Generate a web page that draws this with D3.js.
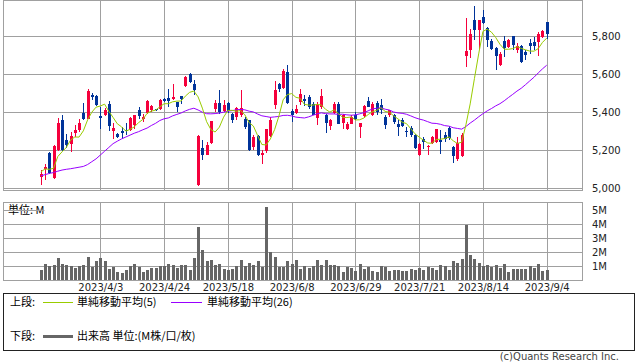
<!DOCTYPE html>
<html>
<head>
<meta charset="utf-8">
<script src="https://cdn.jsdelivr.net/npm/d3@7"></script>
<style>
body { margin: 0; background: #fff; }
text { font-family: "DejaVu Sans", sans-serif; }
.jp { font-family: "Noto Sans CJK JP", sans-serif; }
</style>
</head>
<body>
<svg id="chart" width="638" height="362"></svg>
<script>
// x axis ticks (bar index -> date label)
var tickIdx = [14, 29, 44, 59, 74, 89, 104, 119];
var tickLabels = ['2023/4/3', '2023/4/24', '2023/5/18', '2023/6/8', '2023/6/29', '2023/7/21', '2023/8/14', '2023/9/4'];
var priceTicks = [5000, 5200, 5400, 5600, 5800];
var volTicks = [1, 2, 3, 4, 5];

// daily OHLC, 2023/3/13 .. 2023/9/4
var open = [5060, 5100, 5186, 5054, 5200, 5358, 5256, 5235, 5291, 5309,
  5396, 5367, 5489, 5486, 5379, 5386, 5442, 5302, 5284, 5302,
  5305, 5305, 5332, 5410, 5367, 5398, 5410, 5418, 5416, 5472,
  5477, 5468, 5454, 5484, 5537, 5600, 5547, 5016, 5212, 5174,
  5239, 5416, 5449, 5405, 5449, 5393, 5375, 5384, 5367, 5358,
  5217, 5274, 5177, 5196, 5275, 5437, 5547, 5530, 5611, 5407,
  5398, 5454, 5472, 5481, 5442, 5372, 5428, 5384, 5326, 5396,
  5446, 5344, 5314, 5340, 5384, 5323, 5379, 5458, 5384, 5449,
  5437, 5375, 5384, 5384, 5337, 5361, 5300, 5319, 5279, 5174,
  5261, 5218, 5239, 5244, 5256, 5279, 5318, 5218, 5156, 5168,
  5695, 5730, 5888, 5835, 5902, 5844, 5775, 5739, 5647, 5775,
  5744, 5800, 5726, 5747, 5718, 5765, 5770, 5770, 5796, 5875];
var high = [5095, 5130, 5190, 5226, 5368, 5384, 5288, 5296, 5332, 5367,
  5449, 5525, 5502, 5489, 5428, 5424, 5458, 5344, 5290, 5323,
  5346, 5375, 5384, 5428, 5393, 5463, 5437, 5420, 5470, 5475,
  5525, 5551, 5454, 5484, 5590, 5607, 5572, 5278, 5253, 5244,
  5354, 5467, 5516, 5463, 5454, 5398, 5430, 5516, 5375, 5360,
  5279, 5279, 5200, 5314, 5375, 5563, 5554, 5630, 5647, 5419,
  5437, 5521, 5489, 5489, 5454, 5454, 5525, 5393, 5367, 5454,
  5454, 5393, 5349, 5384, 5402, 5344, 5437, 5481, 5454, 5460,
  5468, 5384, 5414, 5393, 5358, 5372, 5323, 5326, 5288, 5240,
  5270, 5226, 5274, 5311, 5305, 5296, 5326, 5223, 5270, 5291,
  5896, 5840, 5958, 5888, 5937, 5849, 5788, 5744, 5718, 5800,
  5788, 5800, 5765, 5753, 5726, 5788, 5796, 5823, 5832, 5875];
var low = [5016, 5042, 5075, 5050, 5195, 5196, 5210, 5191, 5270, 5296,
  5360, 5363, 5463, 5431, 5314, 5380, 5300, 5261, 5267, 5261,
  5280, 5300, 5310, 5367, 5349, 5393, 5402, 5405, 5410, 5455,
  5428, 5463, 5402, 5446, 5535, 5554, 5491, 5014, 5147, 5174,
  5232, 5402, 5393, 5402, 5396, 5344, 5360, 5375, 5314, 5196,
  5203, 5172, 5130, 5186, 5270, 5419, 5507, 5525, 5446, 5349,
  5393, 5437, 5431, 5419, 5384, 5332, 5419, 5291, 5305, 5393,
  5337, 5314, 5305, 5340, 5358, 5267, 5375, 5428, 5379, 5384,
  5393, 5314, 5375, 5340, 5274, 5323, 5270, 5270, 5209, 5170,
  5209, 5174, 5235, 5239, 5182, 5244, 5253, 5133, 5144, 5165,
  5639, 5688, 5779, 5726, 5863, 5744, 5726, 5621, 5642, 5691,
  5739, 5730, 5712, 5660, 5674, 5709, 5726, 5695, 5793, 5788];
var close = [5077, 5112, 5081, 5223, 5344, 5200, 5226, 5275, 5305, 5342,
  5363, 5512, 5481, 5437, 5372, 5412, 5326, 5318, 5270, 5291,
  5300, 5372, 5384, 5381, 5375, 5460, 5431, 5410, 5467, 5458,
  5460, 5481, 5428, 5470, 5586, 5560, 5516, 5274, 5174, 5230,
  5354, 5449, 5402, 5437, 5407, 5358, 5423, 5423, 5323, 5200,
  5270, 5174, 5186, 5311, 5358, 5516, 5525, 5618, 5449, 5384,
  5419, 5498, 5460, 5428, 5384, 5437, 5484, 5344, 5358, 5442,
  5340, 5384, 5337, 5375, 5363, 5344, 5431, 5428, 5446, 5402,
  5414, 5332, 5410, 5349, 5323, 5326, 5296, 5279, 5212, 5235,
  5244, 5223, 5270, 5311, 5244, 5261, 5267, 5168, 5239, 5279,
  5721, 5814, 5835, 5888, 5870, 5782, 5735, 5695, 5709, 5740,
  5779, 5753, 5747, 5665, 5700, 5747, 5749, 5814, 5828, 5814];
// volume, million shares
var volume = [0.71, 1.14, 1.00, 1.07, 1.57, 1.14, 1.07, 1.00, 0.86, 1.00,
  1.07, 1.64, 0.93, 1.36, 1.57, 1.36, 0.79, 0.93, 0.57, 0.50,
  0.71, 1.00, 1.14, 0.93, 0.57, 0.71, 0.86, 0.86, 1.00, 1.00,
  1.14, 1.07, 0.86, 1.07, 1.07, 0.71, 1.57, 3.79, 2.14, 1.36,
  1.43, 1.07, 1.14, 0.79, 0.71, 0.79, 1.00, 1.43, 1.00, 1.21,
  1.07, 1.36, 0.93, 5.21, 2.00, 1.64, 0.93, 0.93, 1.36, 1.14,
  1.43, 0.79, 1.00, 0.86, 1.00, 1.43, 1.07, 1.43, 1.07, 1.07,
  1.02, 0.60, 0.93, 0.88, 0.64, 1.14, 0.79, 0.95, 0.64, 0.57,
  1.00, 0.93, 0.64, 0.71, 0.71, 0.64, 0.64, 0.79, 0.71, 0.86,
  0.71, 0.93, 0.86, 0.71, 1.07, 1.00, 0.71, 1.36, 1.21, 1.50,
  3.93, 1.79, 1.50, 1.21, 1.00, 1.07, 0.93, 1.07, 0.86, 1.14,
  0.57, 0.79, 0.79, 0.79, 0.79, 1.00, 0.86, 1.14, 0.64, 0.71];
// moving average values before a full window is available
var ma5Lead = [5086, 5102, 5100, 5105];
var ma26Lead = [5065, 5072, 5078, 5083, 5090, 5096, 5100, 5103, 5107, 5111,
  5115, 5125, 5140, 5155, 5175, 5195, 5215, 5235, 5248, 5260,
  5270, 5280, 5290, 5298, 5308];

var upColor = '#f5003c';
var downColor = '#003399';
var ma5Color = '#99cc00';
var ma26Color = '#9900ff';
var gridColor = '#a0a0a0';

function sma(values, n, lead) {
  return values.map(function (v, i) {
    if (i < n - 1) return lead[i];
    return d3.mean(values.slice(i - n + 1, i + 1));
  });
}
function px(v) { return Math.round(v) + 0.5; }

var svg = d3.select('#chart');
var idx = d3.range(close.length);
var x = d3.scaleLinear().domain([0, close.length - 1]).range([40.8, 546.7]);
var y = d3.scaleLinear().domain([5000, 5800]).range([188.3, 36.3]);
var vy = d3.scaleLinear().domain([0, 4]).range([280, 224]);

// ---- price panel
var pane = svg.append('g');
pane.selectAll('line.h').data(priceTicks).enter().append('line')
  .attr('x1', 3).attr('x2', 583)
  .attr('y1', function (d) { return px(y(d)); })
  .attr('y2', function (d) { return px(y(d)); })
  .attr('stroke', gridColor);
pane.selectAll('line.v').data(tickIdx).enter().append('line')
  .attr('x1', function (d) { return px(x(d)); })
  .attr('x2', function (d) { return px(x(d)); })
  .attr('y1', 0.5).attr('y2', 190.5)
  .attr('stroke', gridColor);
pane.append('rect').attr('x', 3.5).attr('y', 0.5).attr('width', 579).attr('height', 190)
  .attr('fill', 'none').attr('stroke', gridColor);

var candles = svg.append('g').attr('shape-rendering', 'crispEdges');
candles.selectAll('line').data(idx).enter().append('line')
  .attr('x1', function (i) { return px(x(i)); })
  .attr('x2', function (i) { return px(x(i)); })
  .attr('y1', function (i) { return y(high[i]); })
  .attr('y2', function (i) { return y(low[i]); })
  .attr('stroke', function (i) { return close[i] >= open[i] ? upColor : downColor; });
candles.selectAll('rect').data(idx).enter().append('rect')
  .attr('x', function (i) { return Math.round(x(i)) - 1; })
  .attr('width', 3)
  .attr('y', function (i) { return y(Math.max(open[i], close[i])); })
  .attr('height', function (i) { return Math.max(1, Math.abs(y(open[i]) - y(close[i]))); })
  .attr('fill', function (i) { return close[i] >= open[i] ? upColor : downColor; });

var maLine = d3.line()
  .x(function (d, i) { return x(i); })
  .y(function (d) { return y(d); });
svg.append('path').attr('d', maLine(sma(close, 26, ma26Lead)))
  .attr('fill', 'none').attr('stroke', ma26Color).attr('stroke-width', 1);
svg.append('path').attr('d', maLine(sma(close, 5, ma5Lead)))
  .attr('fill', 'none').attr('stroke', ma5Color).attr('stroke-width', 1);

var yAxis = svg.append('g').attr('transform', 'translate(582,0)')
  .call(d3.axisRight(y).tickValues(priceTicks).tickFormat(d3.format(',')).tickSize(0).tickPadding(10));
yAxis.select('.domain').remove();
yAxis.selectAll('text').attr('font-size', 10).attr('font-family', 'DejaVu Sans').attr('fill', '#222');

// ---- volume panel
var vpane = svg.append('g');
vpane.selectAll('line.h').data([1, 2, 3, 4]).enter().append('line')
  .attr('x1', 3).attr('x2', 583)
  .attr('y1', function (d) { return px(vy(d)); })
  .attr('y2', function (d) { return px(vy(d)); })
  .attr('stroke', gridColor);
vpane.selectAll('line.v').data(tickIdx).enter().append('line')
  .attr('x1', function (d) { return px(x(d)); })
  .attr('x2', function (d) { return px(x(d)); })
  .attr('y1', 202.5).attr('y2', 280.5)
  .attr('stroke', gridColor);
vpane.append('rect').attr('x', 3.5).attr('y', 202.5).attr('width', 579).attr('height', 78)
  .attr('fill', 'none').attr('stroke', gridColor);

svg.append('g').attr('shape-rendering', 'crispEdges')
  .selectAll('rect').data(idx).enter().append('rect')
  .attr('x', function (i) { return Math.round(x(i)) - 1; })
  .attr('width', 3)
  .attr('y', function (i) { return vy(volume[i]); })
  .attr('height', function (i) { return vy(0) - vy(volume[i]); })
  .attr('fill', '#666');

var unit = svg.append('text').attr('class', 'jp').attr('x', 8).attr('y', 214)
  .attr('font-size', 11).attr('fill', '#000').text('単位: M');
svg.append('line').attr('x1', 3).attr('x2', 8 + unit.node().getComputedTextLength())
  .attr('y1', px(vy(5))).attr('y2', px(vy(5))).attr('stroke', gridColor);

var vAxis = svg.append('g').attr('transform', 'translate(582,0)')
  .call(d3.axisRight(vy).tickValues(volTicks).tickFormat(function (d) { return d + 'M'; }).tickSize(0).tickPadding(10));
vAxis.select('.domain').remove();
vAxis.selectAll('text').attr('font-size', 10).attr('font-family', 'DejaVu Sans').attr('fill', '#222');

var xAxis = svg.append('g').attr('transform', 'translate(0,280)')
  .call(d3.axisBottom(x).tickValues(tickIdx)
    .tickFormat(function (d, i) { return tickLabels[i]; }).tickSize(0).tickPadding(4));
xAxis.select('.domain').remove();
xAxis.selectAll('text').attr('font-size', 10).attr('font-family', 'DejaVu Sans').attr('fill', '#222');

// ---- legend
var lg = svg.append('g');
lg.append('rect').attr('x', 3.5).attr('y', 293.5).attr('width', 631).attr('height', 57)
  .attr('fill', 'none').attr('stroke', '#222');
lg.append('text').attr('class', 'jp').attr('x', 10).attr('y', 306).attr('font-size', 11).text('上段:');
lg.append('line').attr('x1', 43).attr('x2', 73).attr('y1', 302.5).attr('y2', 302.5)
  .attr('stroke', ma5Color);
lg.append('text').attr('class', 'jp').attr('x', 77).attr('y', 306).attr('font-size', 11).text('単純移動平均(5)');
lg.append('line').attr('x1', 171).attr('x2', 202).attr('y1', 302.5).attr('y2', 302.5)
  .attr('stroke', ma26Color);
lg.append('text').attr('class', 'jp').attr('x', 207).attr('y', 306).attr('font-size', 11).text('単純移動平均(26)');
lg.append('text').attr('class', 'jp').attr('x', 10).attr('y', 340).attr('font-size', 11).text('下段:');
lg.append('line').attr('x1', 43).attr('x2', 73).attr('y1', 336.5).attr('y2', 336.5)
  .attr('stroke', '#666').attr('stroke-width', 3);
lg.append('text').attr('class', 'jp').attr('x', 77).attr('y', 340).attr('font-size', 11).text('出来高 単位:(M株/口/枚)');

svg.append('text').attr('x', 619).attr('y', 360).attr('text-anchor', 'end')
  .attr('font-size', 10).attr('font-family', 'Noto Sans').attr('fill', '#444')
  .text('(c)Quants Research Inc.');
</script>
</body>
</html>
